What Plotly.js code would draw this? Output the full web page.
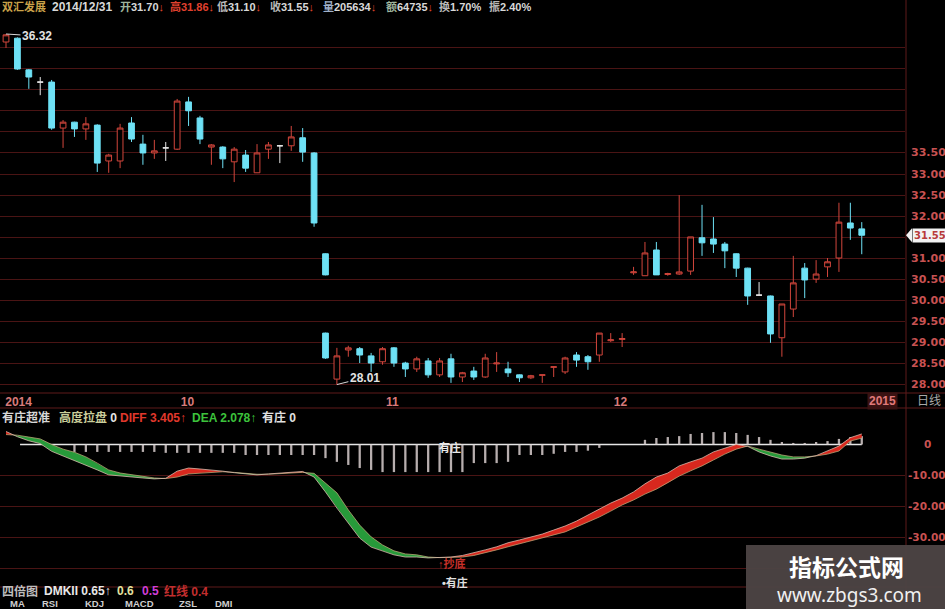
<!DOCTYPE html>
<html>
<head>
<meta charset="utf-8">
<script src="https://cdn.plot.ly/plotly-3.0.1.min.js"></script>
<style>
  html, body { margin: 0; padding: 0; background: #000; }
  #chart { width: 945px; height: 609px; }
</style>
</head>
<body>
<div id="chart"></div>
<script>
// ---- daily candles: 双汇发展, up to 2014/12/31 (slot = trading-day position) ----
const candleSlot = [0,1,2,3,4,5,6,7,8,9,10,11,12,13,14,15,16,17,18,19,20,21,22,23,24,25,26,27,28,28,
  29,30,31,32,33,34,35,36,37,38,39,40,41,42,43,44,45,46,47,48,49,50,51,52,53,54,55,56,57,58,59,
  60,61,62,63,64,65,66,67,68,69,70,71,72,73,74,75];
const openP = [36.13,36.22,35.47,35.18,35.18,34.09,34.23,34.07,34.16,33.31,33.31,34.21,33.71,33.50,33.62,33.59,34.71,34.33,33.64,33.64,
  33.29,33.45,33.03,33.59,33.67,33.67,33.86,33.50,31.11,29.23,
  28.14,28.83,28.86,28.69,28.55,28.88,28.52,28.38,28.57,28.24,28.62,28.19,28.33,28.19,28.50,28.38,28.24,28.17,28.23,28.42,
  28.31,28.71,28.67,28.71,29.05,29.08,30.66,30.59,31.20,30.62,30.63,30.70,31.49,31.46,31.34,31.11,30.77,30.13,30.11,29.12,
  29.80,30.77,30.51,30.80,31.01,31.84,31.70];
const highP = [36.32,36.24,35.49,35.30,35.23,34.28,34.24,34.35,34.18,33.48,34.19,34.35,33.93,33.81,33.76,34.78,34.83,34.38,33.71,33.66,
  33.64,33.57,33.71,33.76,33.69,34.14,34.09,33.52,31.12,29.24,
  28.88,28.93,28.90,28.76,28.90,28.90,28.55,28.67,28.64,28.64,28.74,28.31,28.43,28.74,28.78,28.55,28.25,28.24,28.24,28.44,
  28.67,28.78,28.71,29.23,29.23,29.23,30.80,31.39,31.39,30.66,32.50,31.51,32.27,31.98,31.39,31.12,30.78,30.44,30.12,29.92,
  31.06,30.89,30.96,31.01,32.32,32.32,31.86];
const lowP = [35.99,35.47,35.02,34.87,34.05,33.62,33.88,33.81,33.05,33.03,33.14,33.76,33.22,33.36,33.31,33.57,34.14,33.71,33.22,33.14,
  32.81,33.05,33.03,33.36,33.26,33.55,33.29,31.75,30.60,28.62,
  28.01,28.67,28.52,28.31,28.48,28.43,28.19,28.31,28.17,28.19,28.05,28.07,28.12,28.17,28.31,28.19,28.07,28.14,28.05,28.19,
  28.26,28.43,28.36,28.55,29.02,28.90,30.61,30.59,30.61,30.59,30.61,30.61,31.06,31.13,30.77,30.56,29.90,30.13,29.00,28.67,
  29.61,30.06,30.42,30.56,30.68,31.44,31.10];
const closeP = [36.30,35.49,35.30,35.18,34.09,34.23,34.07,34.19,33.26,33.45,34.09,33.83,33.50,33.55,33.62,34.73,34.50,33.83,33.69,33.36,
  33.59,33.14,33.50,33.69,33.67,33.88,33.52,31.84,30.61,28.64,
  28.69,28.88,28.71,28.52,28.86,28.52,28.38,28.62,28.24,28.57,28.19,28.29,28.19,28.64,28.52,28.29,28.17,28.22,28.24,28.43,
  28.64,28.59,28.55,29.23,29.07,29.10,30.68,31.13,30.61,30.64,30.68,31.51,31.37,31.34,31.18,30.77,30.11,30.13,29.21,29.92,
  30.42,30.49,30.63,30.92,31.86,31.72,31.55];

// session statistics of the last day
const lastVolume = 205634;
const lastAmount = 64735;
const lastTurnover = 1.70;
const lastDate = '2014/12/31';

// month labels on the time strip
const monthTickSlots = [1.1, 15.9, 33.85, 53.85];
const monthTickText = ['2014', '10', '11', '12'];

// price scale
const priceTicks = [28, 28.5, 29, 29.5, 30, 30.5, 31, 31.5, 32, 32.5, 33, 33.5, 34, 34.5, 35, 35.5, 36];
const priceTickText = ['28.00','28.50','29.00','29.50','30.00','30.50','31.00','31.50','32.00','32.50','33.00','33.50','','','','',''];

// ---- indicator panel: DIFF / DEA band and bars ----
const diff = [4.2,2.5,1.2,0.3,-2.2,-3.7,-5.0,-6.6,-8.2,-9.8,-10.2,-10.5,-10.8,-11.1,-10.9,-8.6,-7.6,-7.9,-8.2,-8.6,
  -9.1,-9.5,-9.8,-9.5,-9.2,-8.8,-8.7,-10.5,-15.3,-20.5,-25.3,-30.2,-33.1,-34.3,-35.6,-36.3,-36.3,-36.6,-36.5,-36.3,
  -35.8,-35.0,-34.0,-33.0,-31.7,-30.8,-29.8,-28.9,-27.6,-26.3,-24.7,-22.7,-20.8,-18.9,-17.3,-15.3,-12.7,-10.5,-9.2,-6.9,
  -5.6,-4.4,-2.4,-1.1,0.0,-0.6,-2.4,-3.7,-4.7,-4.7,-4.4,-3.6,-2.1,-0.5,2.2,3.405];
const dea = [3.2,3.0,2.4,1.8,0.0,-1.5,-2.5,-4.0,-6.0,-8.2,-9.2,-9.8,-10.2,-10.8,-11.0,-10.5,-9.5,-9.2,-8.9,-8.8,
  -9.0,-9.3,-9.6,-9.6,-9.4,-9.2,-9.0,-9.3,-12.4,-15.6,-21.1,-26.0,-29.8,-32.4,-34.3,-35.3,-35.6,-36.3,-36.5,-36.5,
  -36.3,-35.8,-35.0,-34.0,-33.0,-32.0,-31.0,-30.1,-29.2,-28.2,-26.6,-25.0,-23.4,-21.5,-19.5,-17.9,-16.0,-14.4,-12.4,-10.2,
  -8.5,-6.9,-5.0,-3.1,-1.5,-0.5,-1.5,-2.4,-3.4,-4.0,-4.0,-3.7,-3.1,-2.1,1.1,2.078];
const bars = [0,0,0,0,0,0,-2.4,-2.4,-2.4,-2.4,-2.4,-2.4,-2.4,-2.4,-2.7,-2.7,-2.7,-2.7,-2.7,-2.7,
  -2.7,-3.4,-3.4,-3.4,-3.4,-3.4,-3.4,-3.4,-4.4,-5.6,-6.6,-7.6,-8.2,-8.9,-8.9,-8.9,-8.9,-8.9,-8.9,-8.9,
  -8.9,-6.0,-6.0,-6.0,-5.6,-3.4,-3.4,-3.4,-3.0,-2.4,-2.4,-2.0,-1.1,0,0,0,1.5,2.1,2.4,2.7,
  3.4,3.7,4.0,4.0,3.7,3.1,2.4,1.5,0.8,0.5,0.5,0.8,1.1,1.8,2.4,2.7];
const macdTicks = [0, -10, -20, -30, -40];
const macdTickText = ['0', '-10.00', '-20.00', '-30.00', ''];

// indicator tabs along the bottom edge
const tabLabels = ['MA', 'RSI', 'KDJ', 'MACD', 'ZSL', 'DMI'];

// ---- page geometry (pixels) ----
const W = 945, H = 609;
const PLOT_W = 905;                 // plotting area spans x 0..905, scale strip to the right
const px = v => v / PLOT_W;         // paper x is measured across the plotting area
const py = v => 1 - v / H;

const PRICE_TOP = 28, PRICE_BOT = 393;
const MACD_TOP = 408, MACD_BOT = 587;
const priceRange = [27.810, 36.462];
const macdRange = [-45.97, 11.77];
const xRange = [-0.526, 78.79];
const TAB_X = [8, 40, 83, 123, 177, 213];

const UP = '#d2463c', DOWN = '#6ee1f5', GRID = '#4a1414', SEP = '#5e1a1a';
const NUM_FONT = 'Liberation Sans, Noto Sans CJK SC, sans-serif';
const AXIS_FONT = 'DejaVu Sans, sans-serif';
const SCALE_COLOR = '#c85252';

// split candles by direction
function pick(test) {
  const o = { x: [], open: [], high: [], low: [], close: [] };
  candleSlot.forEach((s, i) => {
    if (test(openP[i], closeP[i])) {
      o.x.push(s); o.open.push(openP[i]); o.high.push(highP[i]);
      o.low.push(lowP[i]); o.close.push(closeP[i]);
    }
  });
  return o;
}
function candleTrace(d, lineColor, fill) {
  return {
    type: 'candlestick', x: d.x, open: d.open, high: d.high, low: d.low, close: d.close,
    xaxis: 'x', yaxis: 'y', hoverinfo: 'skip', showlegend: false, whiskerwidth: 0,
    increasing: { line: { color: lineColor, width: 1 }, fillcolor: fill },
    decreasing: { line: { color: lineColor, width: 1 }, fillcolor: fill }
  };
}
const upC = pick((o, c) => c > o);
const downC = pick((o, c) => c < o);
const flatC = pick((o, c) => c === o);

const traces = [
  candleTrace(upC, UP, '#000000'),
  candleTrace(downC, DOWN, DOWN),
  candleTrace(flatC, '#e8e8e8', '#e8e8e8')
];

// indicator bars
const idx = diff.map((_, i) => i);
traces.push({
  type: 'bar', x: idx, y: bars, xaxis: 'x', yaxis: 'y2', width: 0.2,
  marker: { color: 'rgba(215,205,205,0.85)', line: { width: 0 } },
  hoverinfo: 'skip', showlegend: false
});

// DIFF/DEA band: red where DIFF is above DEA, green where below
function bandRuns(x, a, b) {
  const runs = [];
  let cur = null;
  for (let i = 0; i < x.length; i++) {
    const up = a[i] >= b[i];
    if (!cur) { cur = { up, xs: [x[i]], as: [a[i]], bs: [b[i]] }; continue; }
    if (up === cur.up) {
      cur.xs.push(x[i]); cur.as.push(a[i]); cur.bs.push(b[i]);
    } else {
      const d0 = a[i - 1] - b[i - 1], d1 = a[i] - b[i];
      const t = d0 / (d0 - d1);
      const xc = x[i - 1] + t * (x[i] - x[i - 1]);
      const yc = a[i - 1] + t * (a[i] - a[i - 1]);
      cur.xs.push(xc); cur.as.push(yc); cur.bs.push(yc);
      runs.push(cur);
      cur = { up, xs: [xc, x[i]], as: [yc, a[i]], bs: [yc, b[i]] };
    }
  }
  runs.push(cur);
  return runs;
}
bandRuns(idx, diff, dea).forEach(r => {
  traces.push({
    type: 'scatter', mode: 'lines', xaxis: 'x', yaxis: 'y2',
    x: r.xs.concat(r.xs.slice().reverse()),
    y: r.as.concat(r.bs.slice().reverse()),
    fill: 'toself', fillcolor: r.up ? '#d8281e' : '#279a3a',
    line: { width: 0 }, hoverinfo: 'skip', showlegend: false
  });
});
traces.push({
  type: 'scatter', mode: 'lines', x: idx, y: dea, xaxis: 'x', yaxis: 'y2',
  line: { color: 'rgba(190,170,120,0.75)', width: 1 }, hoverinfo: 'skip', showlegend: false
});
traces.push({
  type: 'scatter', mode: 'lines', x: idx, y: diff, xaxis: 'x', yaxis: 'y2',
  line: { color: 'rgba(225,195,180,0.75)', width: 1 }, hoverinfo: 'skip', showlegend: false
});

// ---- text ----
const last = closeP.length - 1;
const lastI = diff.length - 1;
const amplitude = (highP[last] - lowP[last]) / closeP[last - 1] * 100;
const arrowDn = '<span style="color:#e0482e">↓</span>';
const arrowUp = '↑';
const sp = (c, t) => `<span style="color:${c}">${t}</span>`;

function txt(x, y, text, color, size, opts) {
  return Object.assign({
    xref: 'paper', yref: 'paper', x: px(x), y: py(y), xanchor: 'left', yanchor: 'middle',
    text: text, showarrow: false,
    font: { family: NUM_FONT, size: size || 12, color: color, weight: 'bold' }
  }, opts || {});
}

const HS = 11; // header text size
const annotations = [
  // header line
  txt(0, 7, '双汇发展', '#caa24a', HS),
  txt(50, 7, lastDate, '#d8d8d8', 12),
  txt(118, 7, sp('#9fb49c', '开') + sp('#d8d8d8', openP[last].toFixed(2)) + arrowDn, '#d8d8d8', HS),
  txt(168, 7, sp('#e0402e', '高' + highP[last].toFixed(2)) + arrowDn, '#d8d8d8', HS),
  txt(215, 7, sp('#b8b8b8', '低') + sp('#d8d8d8', lowP[last].toFixed(2)) + arrowDn, '#d8d8d8', HS),
  txt(268, 7, sp('#b8b8b8', '收') + sp('#d8d8d8', closeP[last].toFixed(2)) + arrowDn, '#d8d8d8', HS),
  txt(321, 7, sp('#9fb0c8', '量') + sp('#d8d8d8', String(lastVolume)) + arrowDn, '#d8d8d8', HS),
  txt(384, 7, sp('#9fb49c', '额') + sp('#d8d8d8', String(lastAmount)) + arrowDn, '#d8d8d8', HS),
  txt(437, 7, sp('#b8b8b8', '换') + sp('#d8d8d8', lastTurnover.toFixed(2) + '%'), '#d8d8d8', HS),
  txt(487, 7, sp('#b8b8b8', '振') + sp('#d8d8d8', amplitude.toFixed(2) + '%'), '#d8d8d8', HS),

  // indicator legend
  txt(0, 417.5, '有庄超准', '#d8d8d8'),
  txt(57, 417.5, sp('#c9cd9a', '高度拉盘') + ' 0', '#e6e6e6'),
  txt(118, 417.5, 'DIFF ' + diff[lastI].toFixed(3) + arrowUp, '#e0382c'),
  txt(190, 417.5, 'DEA ' + dea[lastI].toFixed(3) + arrowUp, '#3cc23c'),
  txt(260, 417.5, '有庄 0', '#e0e0e0'),

  // bottom indicator header
  txt(0, 591, '四倍图', '#bdbdbd'),
  txt(42, 591, 'DMKII 0.65' + arrowUp, '#e8e8e8'),
  txt(115, 591, '0.6', '#e4e2a0'),
  txt(140, 591, '0.5', '#cf3ed8'),
  txt(162, 591, '红线 0.4', '#c22e2e'),

  // time strip extras
  txt(882, 401, '2015', '#e07a7a', 12, { xanchor: 'center', bgcolor: '#3a1212', borderpad: 1 }),
  txt(929, 401, '日线', '#a8a8a8', 12, { xanchor: 'center', font: { family: NUM_FONT, size: 12, color: '#a8a8a8' } }),

  // signal words inside the indicator panel
  txt(450, 447, '有庄', '#e8e8e8', 11, { xanchor: 'center' }),
  txt(452, 563, '↑抄底', '#c8302a', 11, { xanchor: 'center' }),
  txt(455, 582, '•有庄', '#e0e0e0', 11, { xanchor: 'center' }),

  // watermark
  txt(846, 566, '指标公式网', '#ffffff', 23, { xanchor: 'center', font: { family: 'Noto Sans CJK SC, sans-serif', size: 23, color: '#ffffff', weight: 'bold' } }),
  txt(849, 595, 'www.zbgs3.com', '#f0f0f0', 19, { xanchor: 'center', font: { family: 'Noto Sans, sans-serif', size: 19, color: '#f0f0f0' } })
];

// indicator tabs
tabLabels.forEach((t, i) => annotations.push(txt(TAB_X[i], 603.5, t, '#cfcfcf', 9.5)));

// last price tag geometry
const pxPerPrice = (PRICE_BOT - PRICE_TOP) / (priceRange[1] - priceRange[0]);
const lastClose = closeP[last];

// price scale labels (the one under the last-price tag is hidden by it)
priceTicks.forEach((v, i) => {
  if (!priceTickText[i]) return;
  if (Math.abs(v - lastClose) * pxPerPrice < 11) return;
  annotations.push({
    xref: 'paper', yref: 'y', x: px(928.5), y: v, xanchor: 'center', yanchor: 'middle',
    text: priceTickText[i], showarrow: false,
    font: { family: AXIS_FONT, size: 11, color: SCALE_COLOR, weight: 'bold' }
  });
});
// indicator scale labels
macdTicks.forEach((v, i) => {
  if (!macdTickText[i]) return;
  annotations.push({
    xref: 'paper', yref: 'y2', x: px(927), y: v, xanchor: 'center', yanchor: 'middle',
    text: macdTickText[i], showarrow: false,
    font: { family: AXIS_FONT, size: 10.5, color: SCALE_COLOR, weight: 'bold' }
  });
});

// highest high / lowest low markers
let hiI = 0, loI = 0;
highP.forEach((v, i) => { if (v > highP[hiI]) hiI = i; });
lowP.forEach((v, i) => { if (v < lowP[loI]) loI = i; });
annotations.push({
  xref: 'x', yref: 'y', x: candleSlot[hiI], y: highP[hiI], text: highP[hiI].toFixed(2),
  showarrow: true, arrowhead: 0, arrowwidth: 1, arrowcolor: '#d8d8d8', ax: 31, ay: 2,
  font: { family: NUM_FONT, size: 12, color: '#e2e2e2', weight: 'bold' }
});
annotations.push({
  xref: 'x', yref: 'y', x: candleSlot[loI], y: lowP[loI], text: lowP[loI].toFixed(2),
  showarrow: true, arrowhead: 0, arrowwidth: 1, arrowcolor: '#d8d8d8', ax: 28, ay: -7,
  font: { family: NUM_FONT, size: 12, color: '#e2e2e2', weight: 'bold' }
});

// last price tag
annotations.push({
  xref: 'paper', yref: 'y', x: px(912), y: lastClose, xanchor: 'left', yanchor: 'middle',
  text: lastClose.toFixed(2), showarrow: false, bgcolor: '#f2f2f2', borderpad: 1,
  font: { family: AXIS_FONT, size: 10, color: '#b83a3a', weight: 'bold' }
});

const hLine = (y, color) => ({
  type: 'line', xref: 'paper', yref: 'paper', x0: 0, x1: px(W), y0: py(y), y1: py(y),
  line: { color: color || SEP, width: 1 }
});

const shapes = [
  // panel separators
  hLine(393), hLine(408), hLine(587),
  { type: 'line', xref: 'paper', yref: 'paper', x0: px(906), x1: px(906), y0: 0, y1: 1,
    line: { color: SEP, width: 1 } },
  // masked strip of the price grid
  { type: 'rect', xref: 'paper', yref: 'y', x0: px(300), x1: px(720), y0: 29.3, y1: 30.55,
    fillcolor: '#000000', line: { width: 0 }, layer: 'between' },
  // indicator zero axis
  { type: 'line', xref: 'x', yref: 'y2', x0: 1.23, x1: 75, y0: 0, y1: 0,
    line: { color: '#e6e6e6', width: 1.5 }, layer: 'below' },
  // pointer of the last price tag
  { type: 'path', xref: 'paper', yref: 'y',
    path: `M ${px(906)} ${lastClose} L ${px(912)} ${lastClose + 7 / pxPerPrice} L ${px(912)} ${lastClose - 7 / pxPerPrice} Z`,
    fillcolor: '#f2f2f2', line: { width: 0 } },
  // watermark plate
  { type: 'rect', xref: 'paper', yref: 'paper', x0: px(746), x1: px(W), y0: 0, y1: py(545),
    fillcolor: 'rgba(76,68,68,0.96)', line: { width: 0 } }
];

const layout = {
  width: W, height: H,
  margin: { l: 0, r: W - PLOT_W, t: 0, b: 0, pad: 0 },
  paper_bgcolor: '#000000', plot_bgcolor: 'rgba(0,0,0,0)',
  showlegend: false, dragmode: false,
  boxgap: 0.28,
  xaxis: {
    range: xRange, anchor: 'y', rangeslider: { visible: false },
    tickvals: monthTickSlots, ticktext: monthTickText, ticks: '',
    showgrid: false, zeroline: false, showline: false,
    tickfont: { family: NUM_FONT, size: 12, color: '#d87a7a', weight: 'bold' }
  },
  yaxis: {
    domain: [py(PRICE_BOT), py(PRICE_TOP)], range: priceRange, side: 'right',
    tickvals: priceTicks, showticklabels: false, ticks: '',
    showgrid: true, gridcolor: GRID, gridwidth: 1, zeroline: false, showline: false
  },
  yaxis2: {
    domain: [py(MACD_BOT), py(MACD_TOP)], range: macdRange, side: 'right', anchor: 'x',
    tickvals: macdTicks.filter(v => v !== 0), showticklabels: false, ticks: '',
    showgrid: true, gridcolor: GRID, gridwidth: 1, zeroline: false, showline: false
  },
  annotations: annotations,
  shapes: shapes
};

Plotly.newPlot('chart', traces, layout, { staticPlot: true, displayModeBar: false });
</script>
</body>
</html>
